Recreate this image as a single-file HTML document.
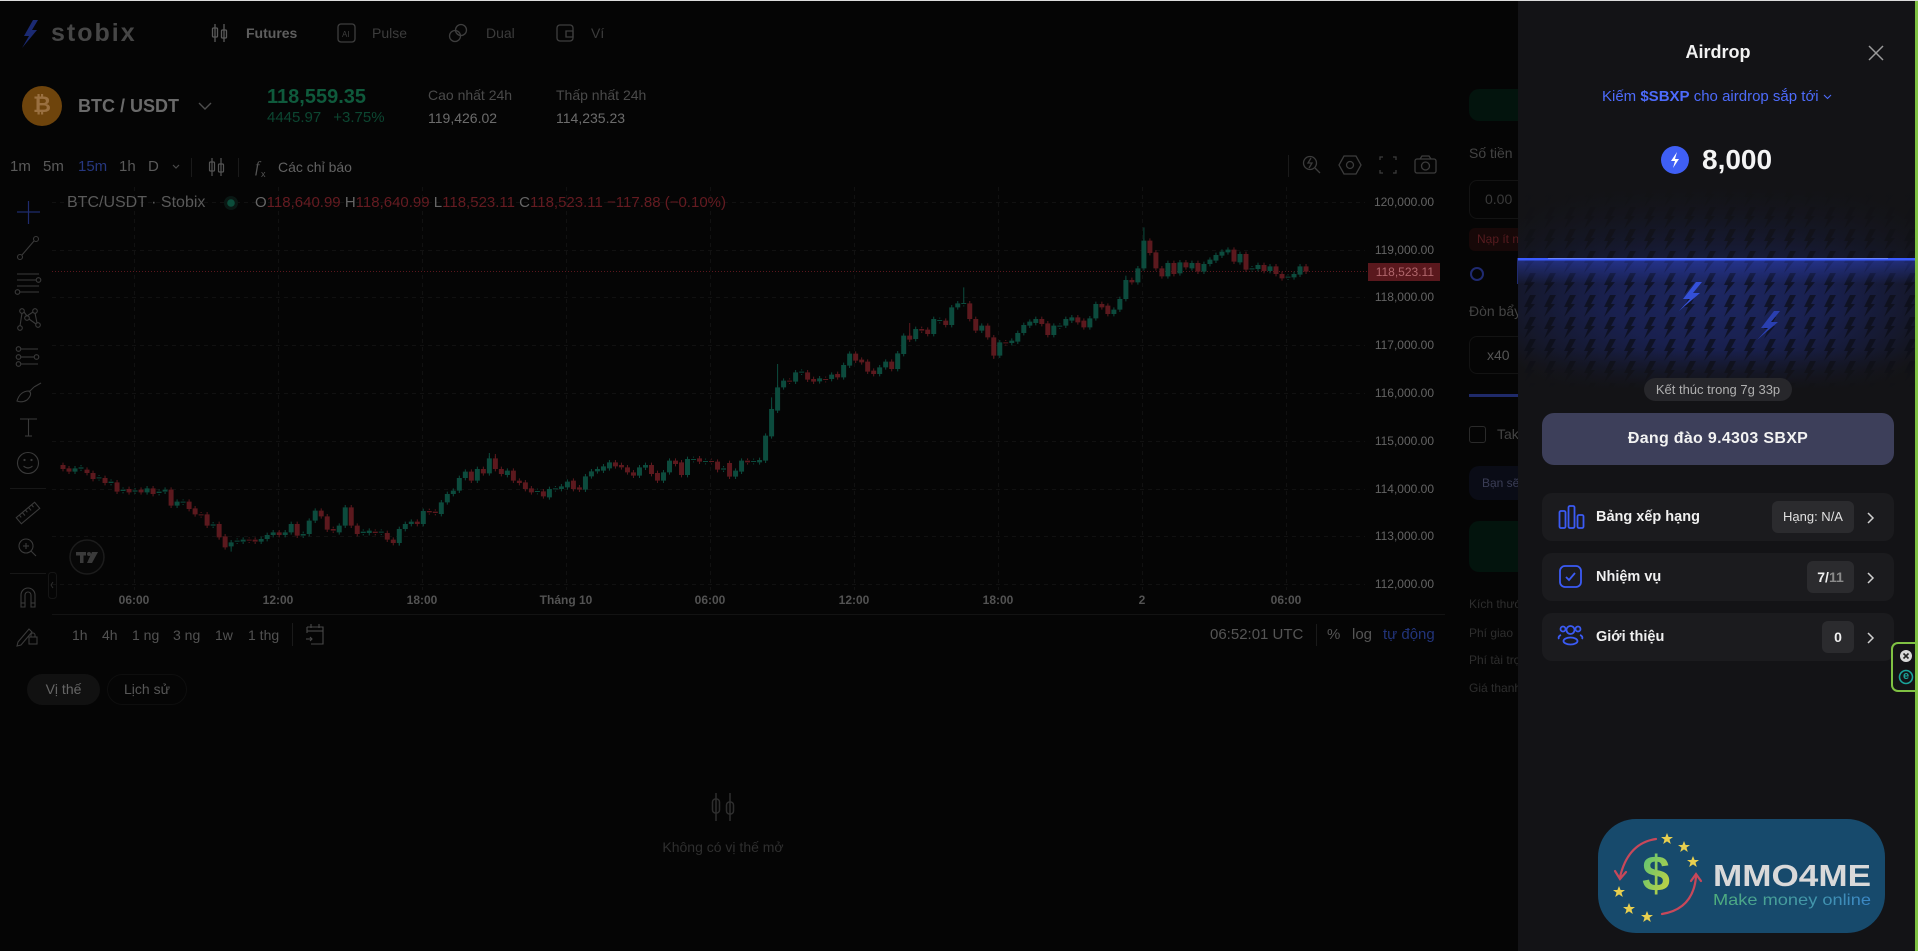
<!DOCTYPE html>
<html><head><meta charset="utf-8">
<style>
*{margin:0;padding:0;box-sizing:border-box}
html,body{width:1918px;height:951px;overflow:hidden;background:#050505;font-family:"Liberation Sans","Noto Sans CJK SC",sans-serif;position:relative}
.a{position:absolute;white-space:nowrap}
svg{position:absolute;overflow:visible}
</style></head><body>

<!-- top border -->
<div class="a" style="left:0;top:0;width:1918px;height:1px;background:#dcdcdc;z-index:20"></div>

<!-- ===== HEADER ===== -->
<svg style="left:0;top:0" width="700" height="60">
  <polygon points="33,20 24,36 29,36 22,48 37,30 32,30 38,20" fill="#1b2a72"/>
  <g stroke="#5a5a5a" stroke-width="1.3" fill="none">
    <line x1="215" y1="24" x2="215" y2="42"/><rect x="212.5" y="28" width="5" height="9" rx="1"/>
    <line x1="224" y1="24" x2="224" y2="42"/><rect x="221.5" y="30" width="5" height="8" rx="1"/>
  </g>
  <g stroke="#3e3e3e" stroke-width="1.3" fill="none">
    <rect x="338" y="24" width="17" height="18" rx="3"/>
    <circle cx="455" cy="36" r="5.5"/><circle cx="461" cy="30" r="5.5"/>
    <rect x="557" y="25" width="16" height="16" rx="3"/><path d="M566 31 h7 v6 h-7 z"/>
  </g>
  <text x="342" y="37" font-size="8" fill="#3e3e3e" font-family="Liberation Sans">AI</text>
</svg>
<div class="a" style="left:51px;top:19px;font-size:25px;font-weight:bold;letter-spacing:2px;color:#464646;line-height:28px">stobix</div>
<div class="a" style="left:246px;top:24px;font-size:14px;font-weight:bold;color:#5e5e5e;line-height:18px">Futures</div>
<div class="a" style="left:372px;top:24px;font-size:14px;color:#3c3c3c;line-height:18px">Pulse</div>
<div class="a" style="left:486px;top:24px;font-size:14px;color:#3c3c3c;line-height:18px">Dual</div>
<div class="a" style="left:591px;top:24px;font-size:14px;color:#3c3c3c;line-height:18px">Ví</div>

<!-- ===== TICKER ROW ===== -->
<div class="a" style="left:22px;top:86px;width:40px;height:40px;border-radius:50%;background:#6e440c"></div>
<div class="a" style="left:22px;top:86px;width:40px;line-height:40px;text-align:center;font-size:22px;font-weight:bold;color:#9a7040;font-family:'DejaVu Sans',sans-serif">₿</div>
<div class="a" style="left:78px;top:95px;font-size:18px;font-weight:bold;color:#6a6a6a;line-height:22px">BTC / USDT</div>
<svg style="left:198px;top:101px" width="14" height="10"><polyline points="1,2 7,8 13,2" fill="none" stroke="#4e4e4e" stroke-width="1.4"/></svg>
<div class="a" style="left:267px;top:85px;font-size:20px;font-weight:bold;color:#0f5a3c;line-height:24px">118,559.35</div>
<div class="a" style="left:267px;top:109px;font-size:15px;color:#0c4631;line-height:18px">4445.97<span style="margin-left:12px">+3.75%</span></div>
<div class="a" style="left:428px;top:86px;font-size:14px;color:#4a4a4a;line-height:18px">Cao nhất 24h</div>
<div class="a" style="left:428px;top:109px;font-size:14px;color:#6c6c6c;line-height:18px">119,426.02</div>
<div class="a" style="left:556px;top:86px;font-size:14px;color:#4a4a4a;line-height:18px">Thấp nhất 24h</div>
<div class="a" style="left:556px;top:109px;font-size:14px;color:#6c6c6c;line-height:18px">114,235.23</div>

<!-- ===== CHART TOOLBAR ===== -->
<div class="a" style="left:10px;top:158px;font-size:15px;color:#5a5a5a;line-height:18px">1m</div>
<div class="a" style="left:43px;top:158px;font-size:15px;color:#5a5a5a;line-height:18px">5m</div>
<div class="a" style="left:78px;top:158px;font-size:15px;color:#26377f;line-height:18px">15m</div>
<div class="a" style="left:119px;top:158px;font-size:15px;color:#5a5a5a;line-height:18px">1h</div>
<div class="a" style="left:148px;top:158px;font-size:15px;color:#5a5a5a;line-height:18px">D</div>
<div class="a" style="left:278px;top:158px;font-size:14px;color:#626262;line-height:18px">Các chỉ báo</div>
<svg style="left:0;top:150px" width="300" height="35">
  <polyline points="173,15 176,18 179,15" fill="none" stroke="#4a4a4a" stroke-width="1.2"/>
  <line x1="191.5" y1="8" x2="191.5" y2="27" stroke="#1a1a1a"/>
  <line x1="238.5" y1="8" x2="238.5" y2="27" stroke="#1a1a1a"/>
  <g stroke="#555" stroke-width="1.2" fill="none">
    <line x1="212" y1="8" x2="212" y2="26"/><rect x="209.5" y="12" width="5" height="9" rx="1"/>
    <line x1="221" y1="8" x2="221" y2="26"/><rect x="218.5" y="14" width="5" height="8" rx="1"/>
  </g>
  <text x="255" y="22" font-size="16" font-style="italic" fill="#555" font-family="Liberation Serif">f</text>
  <text x="261" y="27" font-size="9" fill="#555" font-family="Liberation Sans">x</text>
</svg>
<svg style="left:1280px;top:150px" width="170" height="35">
  <line x1="8.5" y1="5" x2="8.5" y2="27" stroke="#1a1a1a"/>
  <g stroke="#3c3c3c" stroke-width="1.3" fill="none">
    <circle cx="30" cy="13" r="6.5"/><line x1="35" y1="18" x2="40" y2="23"/><polyline points="31,8 28,13 32,13 29,18"/>
    <polygon points="64,6 76,6 81,15 76,24 64,24 59,15"/><circle cx="70" cy="15" r="3.5"/>
    <polyline points="100,10 100,7 103,7"/><polyline points="113,7 116,7 116,10"/><polyline points="116,20 116,23 113,23"/><polyline points="103,23 100,23 100,20"/>
    <rect x="135" y="9" width="21" height="14" rx="2"/><circle cx="145.5" cy="16" r="4"/><path d="M140 9 l2 -3 h7 l2 3"/>
  </g>
</svg>

<!-- ===== LEFT DRAWING TOOLBAR ===== -->
<svg style="left:0;top:190px" width="60" height="470">
  <g stroke="#1f2c6e" stroke-width="1.2"><line x1="17" y1="22" x2="40" y2="22"/><line x1="28.5" y1="11" x2="28.5" y2="34"/></g>
  <g stroke="#3a3a3a" stroke-width="1.1" fill="none">
    <circle cx="20" cy="67" r="2.5"/><circle cx="36" cy="49" r="2.5"/><line x1="22" y1="65" x2="34" y2="51"/>
    <line x1="17" y1="84" x2="39" y2="84"/><line x1="17" y1="90" x2="36" y2="90"/><circle cx="38.5" cy="90" r="2.3"/>
    <line x1="17" y1="96" x2="39" y2="96"/><circle cx="17.5" cy="102" r="2.3"/><line x1="20" y1="102" x2="39" y2="102"/>
    <circle cx="22" cy="121" r="2.3"/><circle cx="35" cy="121" r="2.3"/><circle cx="20" cy="138" r="2.3"/><circle cx="38" cy="135" r="2.3"/><circle cx="27" cy="128" r="2.3"/>
    <polyline points="20,136 22,123"/><polyline points="24,122 27,126 33,122"/><polyline points="35,123 37,133"/><polyline points="29,129 36,134"/>
    <circle cx="18.5" cy="159" r="2.3"/><line x1="21" y1="159" x2="38" y2="159"/>
    <circle cx="18.5" cy="167" r="2.3"/><line x1="21" y1="167" x2="34" y2="167"/><circle cx="36.5" cy="167" r="2.3"/>
    <circle cx="18.5" cy="174" r="2.3"/><line x1="21" y1="174" x2="38" y2="174"/>
    <path d="M17 211 q3 -10 12 -10 q4 3 -2 9 q-5 3 -10 1 z"/><line x1="29" y1="202" x2="34" y2="197"/><line x1="34" y1="197" x2="41" y2="193"/>
    <line x1="20" y1="229" x2="37" y2="229"/><line x1="28.5" y1="229" x2="28.5" y2="246"/><line x1="25" y1="246" x2="32" y2="246"/>
    <circle cx="28" cy="273" r="10.5"/><circle cx="24.5" cy="270" r="0.6"/><circle cx="31.5" cy="270" r="0.6"/><path d="M23.5 276 q4.5 4 9 0"/>
    <g transform="rotate(-40 28 323)"><rect x="16" y="319" width="24" height="8"/><line x1="20" y1="319" x2="20" y2="322"/><line x1="24" y1="319" x2="24" y2="323"/><line x1="28" y1="319" x2="28" y2="322"/><line x1="32" y1="319" x2="32" y2="323"/><line x1="36" y1="319" x2="36" y2="322"/></g>
    <circle cx="26" cy="356" r="7"/><line x1="31" y1="361" x2="36" y2="366"/><line x1="23" y1="356" x2="29" y2="356"/><line x1="26" y1="353" x2="26" y2="359"/>
    <path d="M21 417 V405 a7 7 0 0 1 14 0 V417 h-4 V405 a3 3 0 0 0 -6 0 V417 z"/><line x1="21" y1="413" x2="25" y2="413"/><line x1="31" y1="413" x2="35" y2="413"/>
    <path d="M18 452 l11 -13 l3 3 l-11 13 l-4 1 z"/><rect x="29" y="447" width="8" height="7"/><path d="M31 447 v-2 a2 2 0 0 1 4 0 v2"/>
  </g>
  <line x1="10" y1="298.5" x2="46" y2="298.5" stroke="#171717"/>
  <line x1="10" y1="383.5" x2="46" y2="383.5" stroke="#171717"/>
  <rect x="48.5" y="382.5" width="8" height="26" rx="3" fill="none" stroke="#151515"/>
  <polyline points="53,392 51,395 53,398" fill="none" stroke="#2e2e2e"/>
</svg>

<!-- ===== CHART ===== -->
<svg style="left:0;top:0" width="1450" height="660">
  <defs>
    <path id="gp" d="M2 868V878M3 865V869M6 895V898M8 908V912M10 932V936M12 934V938M14 928V940M16 938V942M17 932V938M19 968V980M20 968V971M25 1036V1040M28 1090V1102M29 1085V1088M30 1082V1088M33 1080V1088M34 1068V1080M35 1060V1068M37 1060V1068M38 1035V1060M40 1065V1070M41 1025V1065M42 995V1025M46 1040V1060M47 985V1040M50 1058V1062M51 1055V1062M53 1058V1061M56 1050V1092M57 1035V1050M58 1028V1035M60 996V1035M63 970V1005M64 945V970M65 935V945M66 897V935M67 878V897M69 870V905M71 838V883M74 875V888M79 936V939M81 930V955M82 928V931M83 922V930M84 908V925M87 892V932M88 877V892M89 870V877M90 862V875M91 850V868M96 865V890M97 858V866M100 880V905M101 845V880M104 840V888M105 840V843M107 846V849M110 868V872M112 875V893M113 845V878M115 846V849M116 843V850M117 770V845M118 690V772M119 625V695M120 605V625M122 580V608M123 578V581M126 598V607M128 587V600M130 558V595M131 524V560M136 565V585M137 548V565M139 523V570M140 470V525M142 450V480M145 420V465M146 423V426M148 385V438M149 373V385M150 372V375M153 440V455M156 490V530M158 485V492M159 462V488M160 438V462M161 428V440M162 420V432M165 440V468M166 440V443M167 420V440M168 415V425M171 418V445M172 375V418M175 392V405M176 360V392M177 303V360M179 268V310M180 185V268M184 252V292M186 250V283M188 252V268M190 255V278M191 242V255M192 228V245M193 218V230M194 212V220M196 225V250M198 268V271M199 258V270M201 262V276M204 293V296M205 285V295M206 262V287"/>
    <path id="rp" d="M0 858V870M1 868V878M4 872V882M5 882V900M7 897V912M9 910V938M11 930V940M13 932V940M15 928V945M18 932V980M21 968V990M22 988V1006M23 1006V1009M24 1006V1040M26 1035V1075M27 1072V1105M31 1082V1085M32 1082V1088M36 1060V1068M39 1035V1070M43 995V1012M44 1012V1052M45 1050V1055M48 985V1040M49 1040V1065M52 1058V1062M54 1062V1082M55 1082V1092M59 1028V1035M61 996V1000M62 998V1002M68 878V905M70 870V883M72 838V870M73 870V885M75 875V905M76 905V912M77 910V930M78 928V940M80 937V952M85 905V930M86 925V932M92 850V862M93 858V865M94 865V880M95 880V890M98 858V885M99 882V905M102 845V855M103 850V888M106 838V848M108 846V849M109 848V872M111 852V893M114 845V850M121 605V608M124 580V602M125 600V608M127 600V603M129 585V595M132 524V545M133 542V550M134 548V578M135 575V585M138 548V570M141 470V482M143 450V455M144 452V465M147 425V438M151 373V420M152 420V455M154 440V475M155 475V530M157 490V493M163 420V435M164 433V468M169 415V430M170 425V445M173 375V385M174 380V405M178 303V310M181 185V222M182 220V268M183 268V292M185 252V285M187 250V265M189 252V278M195 212V248M197 225V272M200 258V276M202 262V285M203 285V298M207 262V278"/>
  </defs>
  <g stroke="#111" stroke-width="1" stroke-dasharray="4 4">
    <line x1="52" x2="1365" y1="202.5" y2="202.5"/><line x1="52" x2="1365" y1="250.5" y2="250.5"/>
    <line x1="52" x2="1365" y1="297.5" y2="297.5"/><line x1="52" x2="1365" y1="345.5" y2="345.5"/>
    <line x1="52" x2="1365" y1="393.5" y2="393.5"/><line x1="52" x2="1365" y1="441.5" y2="441.5"/>
    <line x1="52" x2="1365" y1="489.5" y2="489.5"/><line x1="52" x2="1365" y1="536.5" y2="536.5"/>
    <line x1="52" x2="1365" y1="584.5" y2="584.5"/>
    <line x1="134.5" x2="134.5" y1="187" y2="590"/><line x1="278.5" x2="278.5" y1="187" y2="590"/>
    <line x1="422.5" x2="422.5" y1="187" y2="590"/><line x1="566.5" x2="566.5" y1="187" y2="590"/>
    <line x1="710.5" x2="710.5" y1="187" y2="590"/><line x1="854.5" x2="854.5" y1="187" y2="590"/>
    <line x1="998.5" x2="998.5" y1="187" y2="590"/><line x1="1142.5" x2="1142.5" y1="187" y2="590"/>
    <line x1="1286.5" x2="1286.5" y1="187" y2="590"/>
  </g>
  <line x1="52" x2="1368" y1="271.5" y2="271.5" stroke="#5a171d" stroke-dasharray="1 2"/>
  <g transform="translate(63,179) scale(6.005,0.33333)" fill="none">
    <use href="#gp" stroke="#0c4b3d" stroke-width="0.17" transform="translate(0,-7)"/>
    <use href="#gp" stroke="#0c4b3d" stroke-width="0.17" transform="translate(0,7)"/>
    <use href="#rp" stroke="#5c191e" stroke-width="0.17" transform="translate(0,-7)"/>
    <use href="#rp" stroke="#5c191e" stroke-width="0.17" transform="translate(0,7)"/>
    <path d="M180 145V185M71 822V838M119 555V625M150 325V372M118 655V690M28 1102V1118M56 1092V1100M177 290V303" stroke="#0c4b3d" stroke-width="0.17"/>
    <path d="M141 432V470M26 1075V1082M155 530V540M72 825V838M109 872V880" stroke="#5c191e" stroke-width="0.17"/>
    <use href="#gp" stroke="#0c4b3d" stroke-width="0.83"/>
    <use href="#rp" stroke="#5c191e" stroke-width="0.83"/>
  </g>
  <line x1="52" x2="1445" y1="614.5" y2="614.5" stroke="#131313"/>
  <circle cx="87" cy="557" r="17" fill="#080808" stroke="#1c1c1c" stroke-width="1.5"/>
  <g fill="#3a3a3a"><rect x="76" y="552" width="10" height="3.5"/><rect x="80" y="552" width="3.5" height="11"/><circle cx="89" cy="554" r="2"/><polygon points="92,552 98,552 92,563 87,563"/></g>
  <circle cx="231" cy="203" r="7" fill="#0a1814"/><circle cx="231" cy="203" r="3.8" fill="#0c4d3b"/>
</svg>

<!-- legend -->
<div class="a" style="left:67px;top:193px;font-size:16px;color:#5a5a5a;line-height:20px">BTC/USDT · Stobix</div>
<div class="a" style="left:255px;top:194px;font-size:15px;color:#651b21;line-height:18px"><span style="color:#666">O</span>118,640.99 <span style="color:#666">H</span>118,640.99 <span style="color:#666">L</span>118,523.11 <span style="color:#666">C</span>118,523.11 −117.88 (−0.10%)</div>

<!-- price axis -->
<div class="a" style="left:1368px;top:187px;width:80px;height:403px;overflow:hidden">
  <div class="a" style="left:0;top:8px;width:66px;text-align:right;font-size:12px;color:#646464;line-height:14px">120,000.00</div>
  <div class="a" style="left:0;top:56px;width:66px;text-align:right;font-size:12px;color:#646464;line-height:14px">119,000.00</div>
  <div class="a" style="left:0;top:103px;width:66px;text-align:right;font-size:12px;color:#646464;line-height:14px">118,000.00</div>
  <div class="a" style="left:0;top:151px;width:66px;text-align:right;font-size:12px;color:#646464;line-height:14px">117,000.00</div>
  <div class="a" style="left:0;top:199px;width:66px;text-align:right;font-size:12px;color:#646464;line-height:14px">116,000.00</div>
  <div class="a" style="left:0;top:247px;width:66px;text-align:right;font-size:12px;color:#646464;line-height:14px">115,000.00</div>
  <div class="a" style="left:0;top:295px;width:66px;text-align:right;font-size:12px;color:#646464;line-height:14px">114,000.00</div>
  <div class="a" style="left:0;top:342px;width:66px;text-align:right;font-size:12px;color:#646464;line-height:14px">113,000.00</div>
  <div class="a" style="left:0;top:390px;width:66px;text-align:right;font-size:12px;color:#646464;line-height:14px">112,000.00</div>
  <div class="a" style="left:0;top:76px;width:72px;height:18px;background:#5a181d;text-align:right;padding-right:6px;font-size:12px;color:#b0666c;line-height:18px">118,523.11</div>
</div>

<!-- time axis -->
<div class="a" style="left:104px;top:593px;width:60px;text-align:center;font-size:12px;font-weight:bold;color:#535353;line-height:14px">06:00</div>
<div class="a" style="left:248px;top:593px;width:60px;text-align:center;font-size:12px;font-weight:bold;color:#535353;line-height:14px">12:00</div>
<div class="a" style="left:392px;top:593px;width:60px;text-align:center;font-size:12px;font-weight:bold;color:#535353;line-height:14px">18:00</div>
<div class="a" style="left:526px;top:593px;width:80px;text-align:center;font-size:12px;font-weight:bold;color:#535353;line-height:14px">Tháng 10</div>
<div class="a" style="left:680px;top:593px;width:60px;text-align:center;font-size:12px;font-weight:bold;color:#535353;line-height:14px">06:00</div>
<div class="a" style="left:824px;top:593px;width:60px;text-align:center;font-size:12px;font-weight:bold;color:#535353;line-height:14px">12:00</div>
<div class="a" style="left:968px;top:593px;width:60px;text-align:center;font-size:12px;font-weight:bold;color:#535353;line-height:14px">18:00</div>
<div class="a" style="left:1112px;top:593px;width:60px;text-align:center;font-size:12px;font-weight:bold;color:#535353;line-height:14px">2</div>
<div class="a" style="left:1256px;top:593px;width:60px;text-align:center;font-size:12px;font-weight:bold;color:#535353;line-height:14px">06:00</div>

<!-- bottom chart toolbar -->
<div class="a" style="left:72px;top:626px;font-size:14px;color:#525252;line-height:18px">1h</div>
<div class="a" style="left:102px;top:626px;font-size:14px;color:#525252;line-height:18px">4h</div>
<div class="a" style="left:132px;top:626px;font-size:14px;color:#525252;line-height:18px">1 ng</div>
<div class="a" style="left:173px;top:626px;font-size:14px;color:#525252;line-height:18px">3 ng</div>
<div class="a" style="left:215px;top:626px;font-size:14px;color:#525252;line-height:18px">1w</div>
<div class="a" style="left:248px;top:626px;font-size:14px;color:#525252;line-height:18px">1 thg</div>
<svg style="left:285px;top:620px" width="50" height="30">
  <line x1="7.5" y1="3" x2="7.5" y2="26" stroke="#1a1a1a"/>
  <g stroke="#484848" stroke-width="1.1" fill="none"><path d="M22 7 h16 v17 h-12"/><line x1="22" y1="7" x2="22" y2="13"/><line x1="22" y1="11" x2="38" y2="11"/><line x1="26" y1="4" x2="26" y2="8"/><line x1="34" y1="4" x2="34" y2="8"/><polyline points="21,19 27,19"/><polyline points="25,17 27,19 25,21"/></g>
</svg>
<div class="a" style="left:1210px;top:626px;font-size:15px;color:#555;line-height:18px">06:52:01 UTC</div>
<div class="a" style="left:1316px;top:624px;width:1px;height:22px;background:#1a1a1a"></div>
<div class="a" style="left:1327px;top:626px;font-size:15px;color:#555;line-height:18px">%</div>
<div class="a" style="left:1352px;top:626px;font-size:15px;color:#555;line-height:18px">log</div>
<div class="a" style="left:1383px;top:626px;font-size:15px;color:#22347a;line-height:18px">tự động</div>

<!-- positions tabs -->
<div class="a" style="left:27px;top:674px;width:73px;height:31px;border-radius:16px;background:#111;text-align:center;font-size:14px;color:#666;line-height:31px">Vị thế</div>
<div class="a" style="left:107px;top:674px;width:80px;height:31px;border-radius:16px;border:1px solid #0e0e0e;text-align:center;font-size:14px;color:#575757;line-height:29px">Lịch sử</div>

<!-- empty state -->
<svg style="left:700px;top:790px" width="50" height="40">
  <g stroke="#2e2e2e" stroke-width="1.5" fill="none"><line x1="16" y1="3" x2="16" y2="31"/><rect x="12.5" y="9" width="7" height="14" rx="3"/><line x1="30" y1="3" x2="30" y2="31"/><rect x="26.5" y="12" width="7" height="12" rx="3"/></g>
</svg>
<div class="a" style="left:623px;top:838px;width:200px;text-align:center;font-size:14px;color:#2f2f2f;line-height:18px">Không có vị thế mở</div>

<!-- ===== ORDER PANEL (partially covered) ===== -->
<div class="a" style="left:1469px;top:89px;width:80px;height:32px;border-radius:10px;background:#03140d"></div>
<div class="a" style="left:1469px;top:144px;font-size:14px;color:#444;line-height:18px">Số tiền</div>
<div class="a" style="left:1469px;top:180px;width:80px;height:39px;border-radius:8px;border:1px solid #131313;padding-left:15px;font-size:14px;color:#3a3a3a;line-height:37px">0.00</div>
<div class="a" style="left:1469px;top:228px;width:80px;height:23px;border-radius:6px;background:#170808;padding-left:8px;font-size:12px;color:#561b1f;line-height:23px">Nạp ít n</div>
<div class="a" style="left:1470px;top:267px;width:14px;height:14px;border-radius:50%;border:2.5px solid #1f2a70"></div>
<div class="a" style="left:1517px;top:258px;width:3px;height:26px;background:#1f2a70"></div>
<div class="a" style="left:1469px;top:302px;font-size:14px;color:#444;line-height:18px">Đòn bẩy</div>
<div class="a" style="left:1469px;top:336px;width:80px;height:38px;border-radius:8px;border:1px solid #131313;padding-left:17px;font-size:14px;color:#555;line-height:36px">x40</div>
<div class="a" style="left:1469px;top:394px;width:60px;height:3px;background:#1f2a6a"></div>
<div class="a" style="left:1469px;top:426px;width:17px;height:17px;border-radius:3px;border:1.5px solid #2a2a2a"></div>
<div class="a" style="left:1497px;top:425px;font-size:14px;color:#444;line-height:18px">Tak</div>
<div class="a" style="left:1469px;top:466px;width:80px;height:34px;border-radius:10px;background:#0a0c16;padding-left:13px;font-size:12px;color:#3a3d55;line-height:34px">Bạn sẽ</div>
<div class="a" style="left:1469px;top:521px;width:80px;height:51px;border-radius:10px;background:#03140d"></div>
<div class="a" style="left:1469px;top:596px;font-size:12px;color:#2e2e2e;line-height:16px">Kích thước</div>
<div class="a" style="left:1469px;top:625px;font-size:12px;color:#2e2e2e;line-height:16px">Phí giao</div>
<div class="a" style="left:1469px;top:652px;font-size:12px;color:#2e2e2e;line-height:16px">Phí tài trợ</div>
<div class="a" style="left:1469px;top:680px;font-size:12px;color:#2e2e2e;line-height:16px">Giá thanh</div>

<!-- ===== AIRDROP PANEL ===== -->
<div class="a" style="left:1518px;top:1px;width:400px;height:950px;background:#131316;z-index:5"></div>
<div class="a" style="left:1518px;top:0;width:400px;height:951px;z-index:6">
  <div class="a" style="left:0;top:41px;width:400px;text-align:center;font-size:18px;font-weight:bold;color:#f2f2f2;line-height:22px">Airdrop</div>
  <svg style="left:350px;top:45px" width="16" height="16"><g stroke="#9a9a9a" stroke-width="1.5"><line x1="1" y1="1" x2="15" y2="15"/><line x1="15" y1="1" x2="1" y2="15"/></g></svg>
  <div class="a" style="left:84px;top:88px;font-size:15px;color:#4d6bfb;line-height:18px">Kiếm <b>$SBXP</b> cho airdrop sắp tới</div>
  <svg style="left:305px;top:94px" width="10" height="7"><polyline points="1,1 4.5,4.5 8,1" fill="none" stroke="#4d6bfb" stroke-width="1.1"/></svg>
  <svg style="left:143px;top:146px" width="28" height="28"><circle cx="14" cy="14" r="14" fill="#3f5ff5"/><polygon points="16,6 10,15 14,15 12,22 18,13 14,13" fill="#fff"/></svg>
  <div class="a" style="left:184px;top:144px;font-size:28px;font-weight:bold;color:#f4f4f4;line-height:32px">8,000</div>

  <svg style="left:0;top:185px" width="397" height="205">
    <defs>
      <radialGradient id="rg" cx="50%" cy="52%" r="62%" fx="50%" fy="52%">
        <stop offset="0" stop-color="#1d2762"/>
        <stop offset="0.45" stop-color="#19204e"/>
        <stop offset="0.8" stop-color="#15182c"/>
        <stop offset="1" stop-color="#131316"/>
      </radialGradient>
      <linearGradient id="topfade" x1="0" y1="0" x2="0" y2="1">
        <stop offset="0" stop-color="#131316" stop-opacity="1"/>
        <stop offset="1" stop-color="#131316" stop-opacity="0.45"/>
      </linearGradient>
      <linearGradient id="botfade" x1="0" y1="0" x2="0" y2="1">
        <stop offset="0" stop-color="#131316" stop-opacity="0"/>
        <stop offset="1" stop-color="#131316" stop-opacity="1"/>
      </linearGradient>
      <linearGradient id="glow" x1="0" y1="0" x2="0" y2="1">
        <stop offset="0" stop-color="#2c40b8" stop-opacity="0.55"/>
        <stop offset="1" stop-color="#2c40b8" stop-opacity="0"/>
      </linearGradient>
      <pattern id="bp" width="20" height="22" patternUnits="userSpaceOnUse">
        <polygon points="12,0 18,0 13,9 17,9 6,22 10,12 6,12" fill="#0c0d16" fill-opacity="0.7"/>
      </pattern>
    </defs>
    <rect width="397" height="205" fill="url(#rg)"/>
    <rect width="397" height="205" fill="url(#bp)"/>
    <rect width="397" height="73" fill="url(#topfade)"/>
    <rect y="165" width="397" height="40" fill="url(#botfade)"/>
    <rect y="75" width="397" height="24" fill="url(#glow)"/>
    <rect y="73" width="397" height="2.5" fill="#3a5bff"/>
    <rect x="30" y="73" width="340" height="1" fill="#6a84ff"/>
    <polygon points="178,97 165,114 172,114 161,126 182,108 175,108 184,97" fill="#3450d8"/>
    <polygon points="256,126 243,143 250,143 239,155 260,137 253,137 262,126" fill="#2a3fb0"/>
  </svg>
  <div class="a" style="left:126px;top:378px;width:148px;height:23px;border-radius:12px;background:#27272b;text-align:center;font-size:13px;color:#b0b0b0;line-height:23px">Kết thúc trong 7g 33p</div>

  <div class="a" style="left:24px;top:413px;width:352px;height:52px;border-radius:12px;background:#3d3f5a;text-align:center;font-size:16px;font-weight:bold;color:#f2f2f2;line-height:52px;letter-spacing:0.3px">Đang đào 9.4303 SBXP</div>

  <div class="a" style="left:24px;top:493px;width:352px;height:48px;border-radius:10px;background:#1b1b1e"></div>
  <div class="a" style="left:24px;top:553px;width:352px;height:48px;border-radius:10px;background:#1b1b1e"></div>
  <div class="a" style="left:24px;top:613px;width:352px;height:48px;border-radius:10px;background:#1b1b1e"></div>
  <svg style="left:0;top:480px" width="400" height="200">
    <g stroke="#3b5bf5" stroke-width="1.8" fill="none">
      <rect x="41.5" y="31" width="6" height="17" rx="1.5"/><rect x="50.5" y="26" width="6" height="22" rx="1.5"/><rect x="59.5" y="35" width="6" height="13" rx="1.5"/>
      <rect x="42" y="86" width="21" height="21" rx="5"/><polyline points="48,97 51,100 57,93"/>
      <circle cx="52.5" cy="150" r="4"/><ellipse cx="52.5" cy="161" rx="7" ry="3.5"/>
      <circle cx="45" cy="149" r="2.5"/><circle cx="60" cy="149" r="2.5"/><path d="M41 159 a4 3 0 0 1 2 -4"/><path d="M64 159 a4 3 0 0 0 -2 -4"/>
    </g>
    <g stroke="#cfcfcf" stroke-width="1.5" fill="none">
      <polyline points="350,33 355,38 350,43"/><polyline points="350,93 355,98 350,103"/><polyline points="350,153 355,158 350,163"/>
    </g>
  </svg>
  <div class="a" style="left:78px;top:508px;font-size:14.5px;font-weight:bold;color:#f0f0f0;line-height:18px">Bảng xếp hạng</div>
  <div class="a" style="left:78px;top:568px;font-size:14.5px;font-weight:bold;color:#f0f0f0;line-height:18px">Nhiệm vụ</div>
  <div class="a" style="left:78px;top:628px;font-size:14.5px;font-weight:bold;color:#f0f0f0;line-height:18px">Giới thiệu</div>
  <div class="a" style="left:254px;top:501px;width:82px;height:32px;border-radius:6px;background:#2b2b2e;text-align:center;font-size:13px;color:#e0e0e0;line-height:32px">Hạng: N/A</div>
  <div class="a" style="left:289px;top:561px;width:47px;height:32px;border-radius:6px;background:#2b2b2e;text-align:center;font-size:14px;font-weight:bold;color:#f0f0f0;line-height:32px">7/<span style="color:#8a8a8a">11</span></div>
  <div class="a" style="left:304px;top:621px;width:32px;height:32px;border-radius:6px;background:#2b2b2e;text-align:center;font-size:14px;font-weight:bold;color:#f0f0f0;line-height:32px">0</div>

  <svg style="left:80px;top:819px" width="288" height="115">
    <defs>
      <linearGradient id="dg" x1="0" y1="0" x2="1" y2="1"><stop offset="0" stop-color="#4fc27a"/><stop offset="1" stop-color="#d4d43a"/></linearGradient>
      <linearGradient id="tg" x1="0" y1="0" x2="1" y2="0"><stop offset="0" stop-color="#4fae7c"/><stop offset="1" stop-color="#3a86c6"/></linearGradient>
    </defs>
    <rect x="0" y="0" width="287" height="114" rx="38" fill="#174a6c"/>
    <g fill="none" stroke="#c8485a" stroke-width="2.2" stroke-linecap="round">
      <path d="M58 20 Q30 24 22 58"/><polyline points="17,52 22,60 28,53"/>
      <path d="M64 95 Q95 90 98 58"/><polyline points="93,62 98,55 103,62"/>
    </g>
    <g fill="#e8cf4f">
      <polygon points="69,14 70.6,18 75,18 71.5,20.6 72.8,25 69,22.4 65.2,25 66.5,20.6 63,18 67.4,18"/>
      <polygon points="86,22 87.6,26 92,26 88.5,28.6 89.8,33 86,30.4 82.2,33 83.5,28.6 80,26 84.4,26"/>
      <polygon points="95,37 96.6,41 101,41 97.5,43.6 98.8,48 95,45.4 91.2,48 92.5,43.6 89,41 93.4,41"/>
      <polygon points="21,67 22.6,71 27,71 23.5,73.6 24.8,78 21,75.4 17.2,78 18.5,73.6 15,71 19.4,71"/>
      <polygon points="31,84 32.6,88 37,88 33.5,90.6 34.8,95 31,92.4 27.2,95 28.5,90.6 25,88 29.4,88"/>
      <polygon points="49,92 50.6,96 55,96 51.5,98.6 52.8,103 49,100.4 45.2,103 46.5,98.6 43,96 47.4,96"/>
    </g>
    <text x="58" y="72" text-anchor="middle" font-size="50" font-weight="bold" fill="url(#dg)" font-family="Liberation Sans">$</text>
    <text x="115" y="67" font-size="31" font-weight="bold" fill="#d9d9d9" font-family="Liberation Sans" textLength="158" lengthAdjust="spacingAndGlyphs">MMO4ME</text>
    <text x="115" y="86" font-size="16" fill="url(#tg)" font-family="Liberation Sans" textLength="158" lengthAdjust="spacingAndGlyphs">Make money online</text>
  </svg>

  <div class="a" style="left:373px;top:642px;width:27px;height:50px;border:2px solid #7fc143;border-right:none;border-radius:7px 0 0 7px;background:#131316"></div>
  <svg style="left:380px;top:648px" width="18" height="40">
    <circle cx="8" cy="8" r="6" fill="#d8d8d8"/><g stroke="#222" stroke-width="1.6"><line x1="5.5" y1="5.5" x2="10.5" y2="10.5"/><line x1="10.5" y1="5.5" x2="5.5" y2="10.5"/></g>
    <circle cx="8" cy="29" r="6.5" fill="none" stroke="#1aa39a" stroke-width="1.6"/>
  </svg>
  <div class="a" style="left:383px;top:669px;width:10px;text-align:center;font-size:11px;font-weight:bold;color:#1aa39a;line-height:14px">e</div>
</div>
<div class="a" style="left:1915px;top:1px;width:3px;height:950px;background:#7fc143;z-index:10"></div>

</body></html>
